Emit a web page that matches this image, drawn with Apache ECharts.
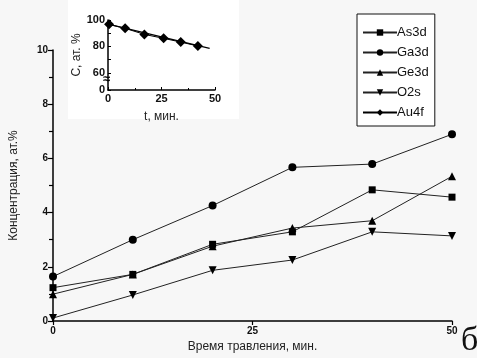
<!DOCTYPE html>
<html><head><meta charset="utf-8">
<script src="https://cdn.jsdelivr.net/npm/echarts@6/dist/echarts.min.js"></script>
<style>html,body{margin:0;padding:0;background:#f7f7f7}#c{width:477px;height:358px}</style>
</head><body><div id="c"></div>
<script>
const times = [0, 10, 20, 30, 40, 50];
const as3d = [1.23, 1.72, 2.83, 3.29, 4.84, 4.57];
const ga3d = [1.64, 3.0, 4.26, 5.67, 5.79, 6.89];
const ge3d = [0.99, 1.72, 2.76, 3.43, 3.7, 5.34];
const o2s = [0.11, 0.96, 1.87, 2.25, 3.29, 3.14];
const au4fT = [0.5, 8, 17, 26, 34, 42];
const au4fC = [96.7, 93.7, 89.1, 86.1, 83.3, 80.3];
const au4fFitT = [0, 47.5];
const au4fFitC = [96.9, 78.5];
const insetYLabels = [47, 60, 80, 100]; // 47 shown as "0" (broken axis)

const pairs = (xs, ys) => xs.map((x, i) => [x, ys[i]]);
const font = 'Liberation Sans, Arial, sans-serif';
const ch = echarts.init(document.getElementById('c'));
const lineStyle = {color: '#222', width: 1};
const mk = (name, data, symbol, rot) => ({
  name, type: 'line', data: pairs(times, data), xAxisIndex: 0, yAxisIndex: 0,
  symbol, symbolSize: symbol === 'rect' ? 7 : 8, symbolRotate: rot || 0,
  itemStyle: {color: '#000'}, lineStyle, showSymbol: true, z: 3
});
ch.setOption({
  animation: false,
  backgroundColor: '#f7f7f7',
  graphic: [
    {type: 'rect', shape: {x: 68, y: 0, width: 171, height: 119}, style: {fill: '#ffffff'}, z: -10, silent: true},
    {type: 'text', left: 103, top: 73, style: {text: '≈', font: 'bold 13px ' + font, fill: '#000'}, z: 20},
    {type: 'text', left: 461, top: 324, style: {text: 'б', font: '34px Liberation Serif, Times New Roman, serif', fill: '#111'}, z: 20}
  ],
  legend: {
    orient: 'vertical', left: 357, top: 14, width: 86,
    padding: [12, 6, 7, 5], itemGap: 7, itemWidth: 34, itemHeight: 8,
    borderColor: '#111', borderWidth: 1, backgroundColor: '#fff',
    textStyle: {fontFamily: font, fontSize: 13, color: '#111', padding: [0, 0, 0, -5]},
    data: ['As3d', 'Ga3d', 'Ge3d', 'O2s', 'Au4f']
  },
  grid: [
    {left: 52, right: 25, top: 50, bottom: 35},
    {left: 108, top: 20, width: 107, height: 70}
  ],
  xAxis: [
    {gridIndex: 0, type: 'value', min: 0, max: 50, interval: 25,
     name: 'Время травления, мин.', nameLocation: 'middle', nameGap: 20,
     nameTextStyle: {fontFamily: font, fontSize: 12, color: '#222'},
     axisLine: {lineStyle: {color: '#000', width: 1.5}},
     axisTick: {length: 4, lineStyle: {color: '#000', width: 1.2}},
     axisLabel: {fontFamily: font, fontSize: 10, fontWeight: 'bold', color: '#111', margin: 5},
     splitLine: {show: false}},
    {gridIndex: 1, type: 'value', min: 0, max: 50, interval: 25,
     name: 't, мин.', nameLocation: 'middle', nameGap: 21,
     nameTextStyle: {fontFamily: font, fontSize: 12, color: '#222'},
     axisLine: {lineStyle: {color: '#000', width: 1.5}},
     axisTick: {length: 3, inside: true, lineStyle: {color: '#000'}},
     minorTick: {show: true, splitNumber: 2, length: 2, lineStyle: {color: '#000'}},
     axisLabel: {fontFamily: font, fontSize: 11, fontWeight: 'bold', color: '#111', margin: 3},
     splitLine: {show: false}}
  ],
  yAxis: [
    {gridIndex: 0, type: 'value', min: 0, max: 10, interval: 2,
     name: 'Концентрация, ат.%', nameLocation: 'middle', nameGap: 33,
     nameTextStyle: {fontFamily: font, fontSize: 12, color: '#222'},
     axisLine: {show: true, lineStyle: {color: '#000', width: 1.5}},
     axisTick: {show: true, length: 5, lineStyle: {color: '#000', width: 1.2}},
     minorTick: {show: true, splitNumber: 2, length: 4, lineStyle: {color: '#000', width: 1.2}},
     axisLabel: {fontFamily: font, fontSize: 10, fontWeight: 'bold', color: '#111', margin: 5},
     splitLine: {show: false}},
    {gridIndex: 1, type: 'value', min: 47, max: 100,
     name: 'С, ат. %', nameLocation: 'middle', nameGap: 21,
     nameTextStyle: {fontFamily: font, fontSize: 12, color: '#222'},
     axisLine: {show: true, lineStyle: {color: '#000', width: 1.5}},
     axisTick: {show: true, inside: true, length: 3, customValues: [47, 60, 70, 80, 90, 100], lineStyle: {color: '#000'}},
     axisLabel: {fontFamily: font, fontSize: 11, fontWeight: 'bold', color: '#111', margin: 3,
       customValues: insetYLabels, formatter: v => (v === 47 ? '0' : String(v))},
     splitLine: {show: false}}
  ],
  series: [
    mk('As3d', as3d, 'rect'),
    mk('Ga3d', ga3d, 'circle'),
    mk('Ge3d', ge3d, 'triangle'),
    mk('O2s', o2s, 'triangle', 180),
    {name: 'Au4f', type: 'line', xAxisIndex: 1, yAxisIndex: 1, data: pairs(au4fT, au4fC),
     symbol: 'diamond', symbolSize: 10, itemStyle: {color: '#000'}, lineStyle: {color: '#000', width: 1}, z: 4},
    {name: 'Au4f fit', type: 'line', xAxisIndex: 1, yAxisIndex: 1, data: pairs(au4fFitT, au4fFitC),
     symbol: 'none', lineStyle: {color: '#000', width: 1.2}, z: 3}
  ]
});
</script></body></html>
